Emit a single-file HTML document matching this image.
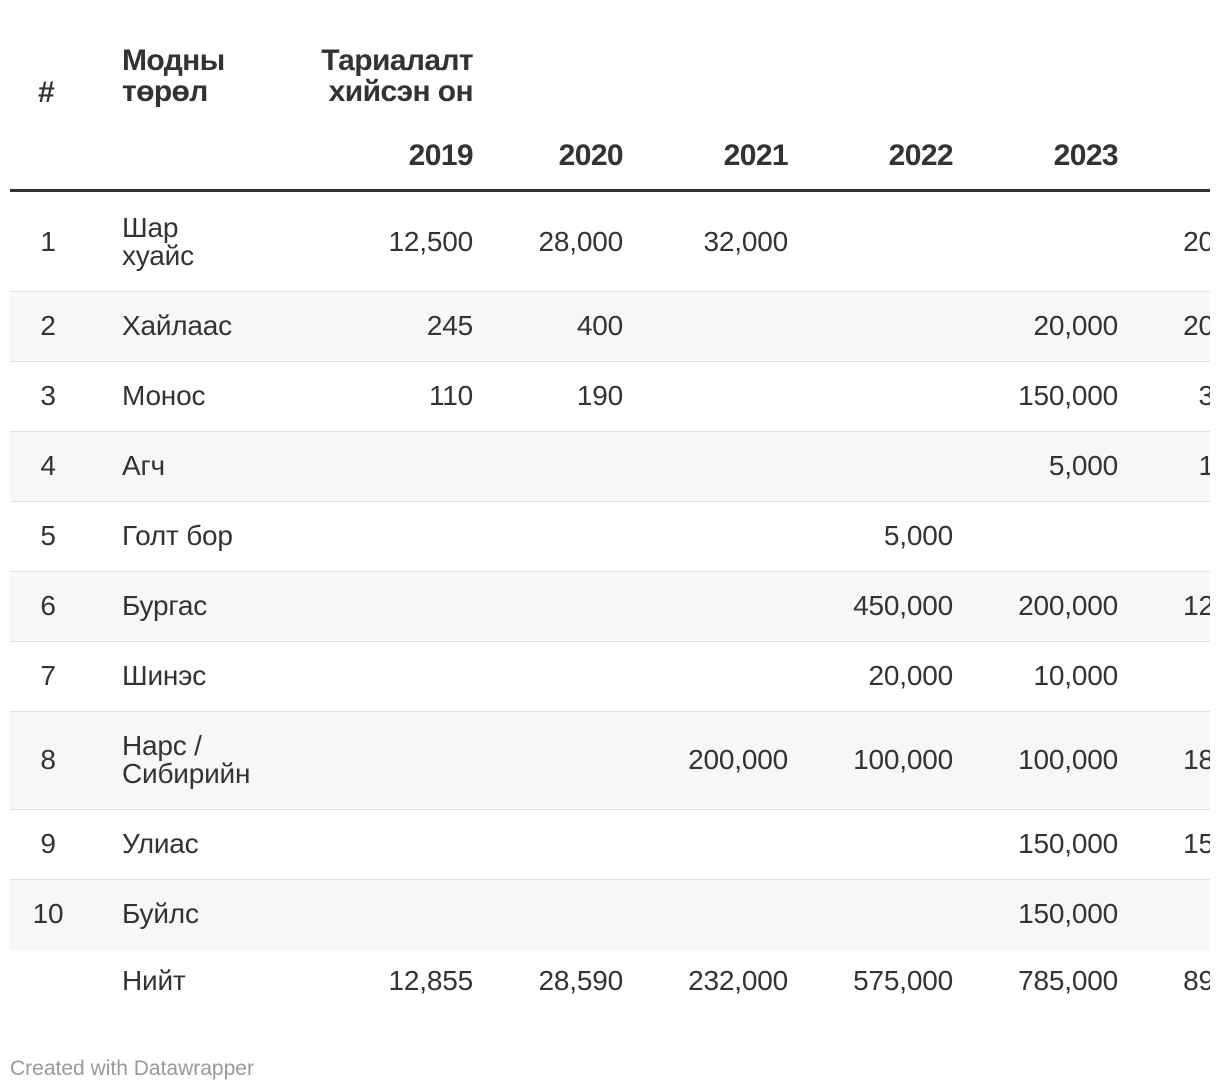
<!DOCTYPE html>
<html><head><meta charset="utf-8"><style>
body{margin:0;width:1220px;height:1090px;overflow:hidden;background:#fff;font-family:"Liberation Sans","DejaVu Sans",sans-serif;color:#333;position:relative}
#wrap{position:absolute;left:0;top:0;width:1210px;height:1090px;overflow:hidden}
.t{position:absolute;white-space:nowrap;font-size:28px;line-height:28px;letter-spacing:-0.2px}
.b{font-weight:bold;font-size:30px;letter-spacing:-0.6px;line-height:31px}
.r{text-align:right}
.row{position:absolute;left:10px;width:1200px}
</style></head><body>
<div id="wrap">
<div class="t b" style="left:38px;top:77px">#</div>
<div class="t b" style="left:122px;top:45px">Модны<br>төрөл</div>
<div class="t b r" style="right:737px;top:45px">Тариалалт<br>хийсэн он</div>
<div id="hl" style="position:absolute;left:10px;top:189px;width:1200px;height:3px;background:#333"></div>
</div>
<div class="t" style="left:10px;top:1055px;font-size:21px;color:#999;letter-spacing:0">Created with Datawrapper</div>
<script>
const years=["2019","2020","2021","2022","2023","2024"];
const names=[["Шар","хуайс"],["Хайлаас"],["Монос"],["Агч"],["Голт бор"],["Бургас"],["Шинэс"],["Нарс /","Сибирийн"],["Улиас"],["Буйлс"]];
const vals=[
["12,500","28,000","32,000","","","200,000"],
["245","400","","","20,000","200,000"],
["110","190","","","150,000","30,000"],
["","","","","5,000","10,000"],
["","","","5,000","",""],
["","","","450,000","200,000","120,000"],
["","","","20,000","10,000",""],
["","","200,000","100,000","100,000","180,000"],
["","","","","150,000","150,000"],
["","","","","150,000",""]];
const totals=["12,855","28,590","232,000","575,000","785,000","890,000"];
const colRight=[473,623,788,953,1118,1283];
const rowTops=[192,291,361,431,501,571,641,711,809,879,949];
const W=document.getElementById('wrap');
function add(html,cls,style,name){const d=document.createElement('div');d.className=cls;d.innerHTML=html;d.style.cssText=style;


W.appendChild(d);return d;}
years.forEach((y,i)=>{add(y,'t b r','right:'+(1210-colRight[i])+'px;top:140px','year-header-'+y);});
for(let r=0;r<names.length;r++){
 const top=rowTops[r],h=rowTops[r+1]-top,mid=top+h/2;
 add('','row','top:'+top+'px;height:'+h+'px;background:'+(r%2?'#f7f7f7':'#fff')+';border-top:'+(r>0?'1px solid #e2e2e2':'none'),'table-row-'+(r+1));
 add(String(r+1),'t','left:24px;width:48px;text-align:center;top:'+(mid-14)+'px','row-number');
 add(names[r].join('<br>'),'t','left:122px;top:'+(mid-14*names[r].length)+'px','tree-name');
 vals[r].forEach((v,i)=>{if(v)add(v,'t r','right:'+(1210-colRight[i])+'px;top:'+(mid-14)+'px','value-cell');});
}
const tm=981;
add('Нийт','t','left:122px;top:'+(tm-14)+'px','total-label');
totals.forEach((v,i)=>{add(v,'t r','right:'+(1210-colRight[i])+'px;top:'+(tm-14)+'px','total-cell');});
document.getElementById('hl').style.zIndex=5;
</script>
</body></html>
